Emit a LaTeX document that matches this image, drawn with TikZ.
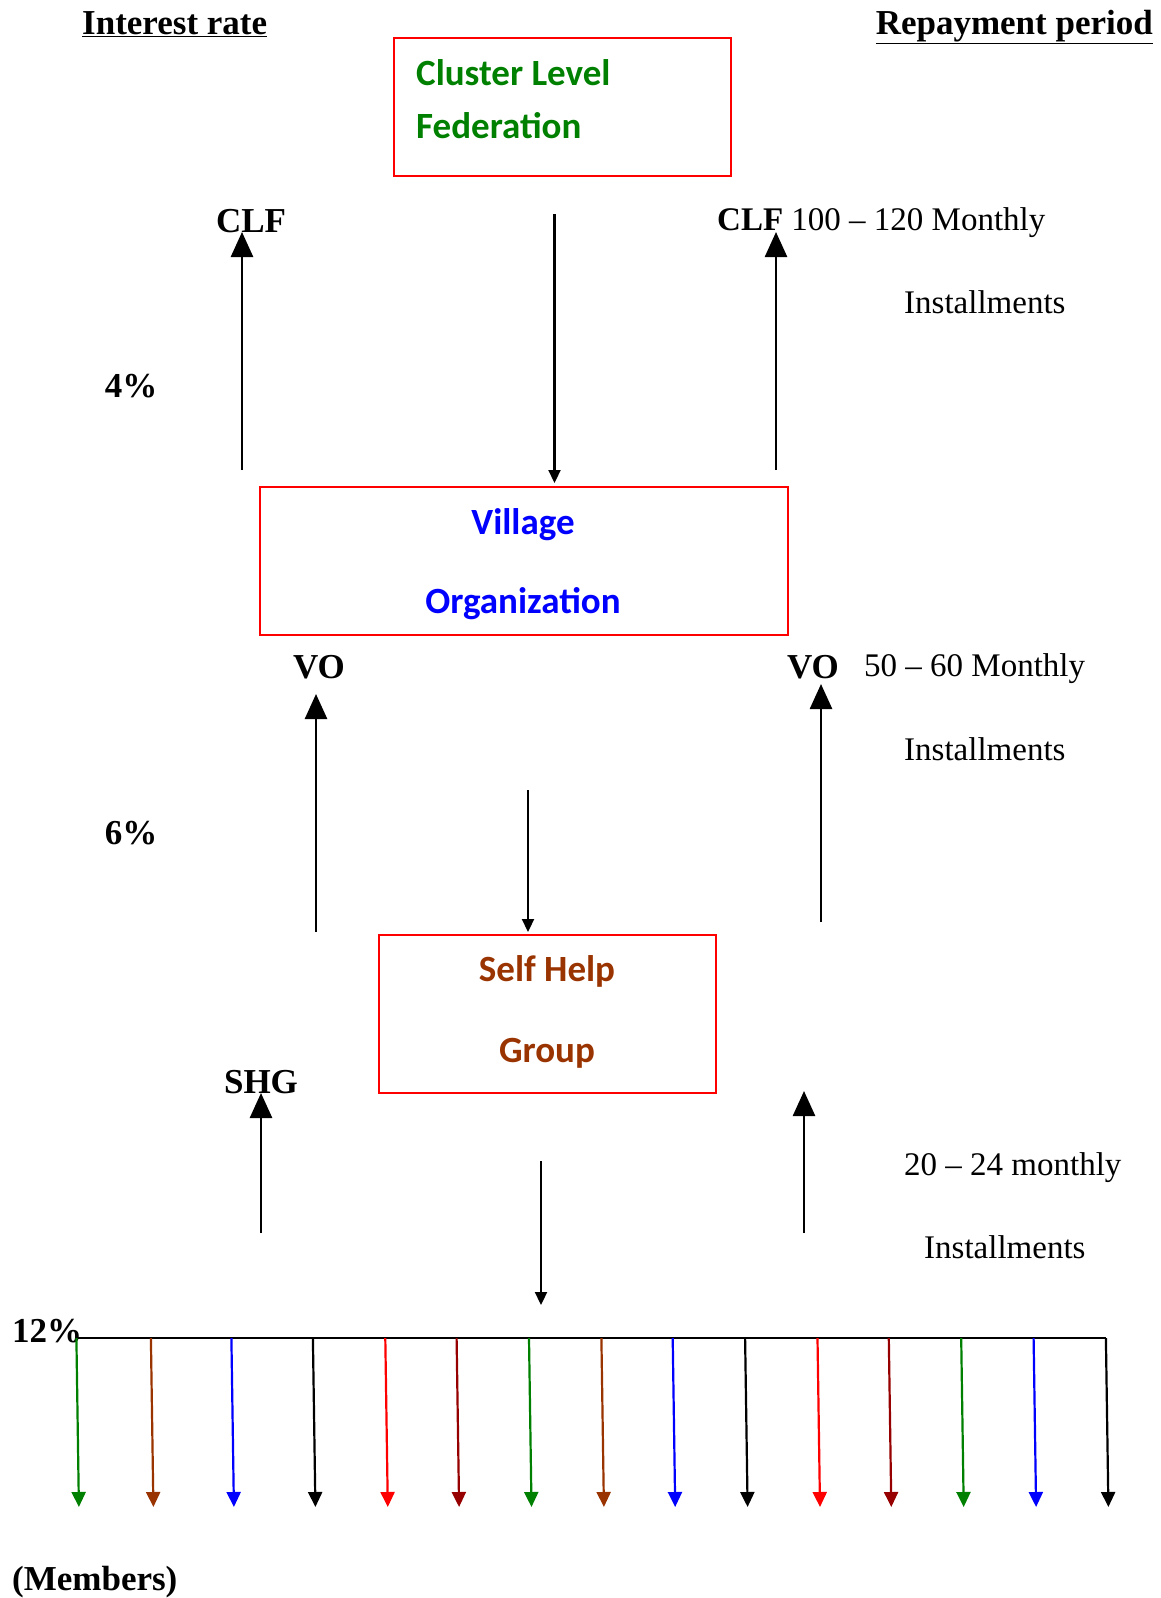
\documentclass[tikz,border=0pt]{standalone}
\usepackage{fontspec}
\setmainfont{Liberation Serif}
\newfontfamily\boxfont{Carlito}
\usetikzlibrary{arrows.meta}
\definecolor{cgreen}{RGB}{0,128,0}
\definecolor{cbrown}{RGB}{153,51,0}
\definecolor{cdred}{RGB}{150,0,0}
\definecolor{cblue}{RGB}{0,0,255}
\definecolor{cred}{RGB}{255,0,0}
\tikzset{
  lbl/.style={font=\fontsize{33}{38}\selectfont, inner sep=0pt},
  blbl/.style={font=\fontsize{35}{40}\selectfont\bfseries, inner sep=0pt},
  boxtxt/.style={font=\fontsize{37}{42}\selectfont\boxfont\bfseries, inner sep=0pt},
  frame/.style={draw=cred, line width=1.6pt},
  bigup/.style={line width=2.6pt, -{Triangle[length=25pt,width=22pt]}},
  smalldown/.style={line width=2.2pt, -{Triangle[length=13pt,width=12pt]}},
  member/.style={line width=2.2pt, -{Triangle[length=15pt,width=14pt]}},
}
\begin{document}
\begin{tikzpicture}[x=1pt,y=-1pt]
\useasboundingbox (0,0) rectangle (1160,1598);
% headers
\node[blbl, anchor=west] (hir) at (82,24) {\underline{Interest rate}};
\node[blbl, anchor=east] (hrp) at (1153,27) {\underline{Repayment period}};
% CLF box
\draw[frame] (394,38) rectangle (731,176);
\node[boxtxt, text=cgreen, anchor=west] (clf1) at (416,73) {Cluster Level};
\node[boxtxt, text=cgreen, anchor=west] (clf2) at (416,126) {Federation};
% CLF level labels and arrows
\node[blbl] (clfl) at (251,221) {CLF};
\coordinate (a1s) at (242,470); \coordinate (a1e) at (242,232);
\draw[bigup] (a1s) -- (a1e);
\coordinate (d1s) at (554.5,214); \coordinate (d1e) at (554.5,483);
\draw[smalldown] (d1s) -- (d1e);
\node[lbl, anchor=west] (clfr) at (717,223) {\textbf{CLF} 100 – 120 Monthly};
\coordinate (a2s) at (776,470); \coordinate (a2e) at (776,232);
\draw[bigup] (a2s) -- (a2e);
\node[lbl, anchor=west] (inst1) at (904,302) {Installments};
\node[blbl] (p4) at (131,386) {4\%};
% VO box
\draw[frame] (260,487) rectangle (788,635);
\node[boxtxt, text=cblue] (vo1) at (523,525) {Village};
\node[boxtxt, text=cblue] (vo2) at (523,604) {Organization};
% VO level
\node[blbl] (vol) at (319,667) {VO};
\coordinate (a3s) at (316,932); \coordinate (a3e) at (316,694);
\draw[bigup] (a3s) -- (a3e);
\coordinate (d2s) at (528,790); \coordinate (d2e) at (528,932);
\draw[smalldown] (d2s) -- (d2e);
\node[blbl] (vor) at (813,667) {VO};
\node[lbl, anchor=west] (vorr) at (864,669) {50 – 60 Monthly};
\coordinate (a4s) at (821,922); \coordinate (a4e) at (821,684);
\draw[bigup] (a4s) -- (a4e);
\node[lbl, anchor=west] (inst2) at (904,749) {Installments};
\node[blbl] (p6) at (131,833) {6\%};
% SHG box
\draw[frame] (379,935) rectangle (716,1093);
\node[boxtxt, text=cbrown] (shg1) at (547,971) {Self Help};
\node[boxtxt, text=cbrown] (shg2) at (547,1053) {Group};
% SHG level
\node[blbl] (shgl) at (261,1082) {SHG};
\coordinate (a5s) at (261,1233); \coordinate (a5e) at (261,1093);
\draw[bigup] (a5s) -- (a5e);
\coordinate (d3s) at (541,1161); \coordinate (d3e) at (541,1305);
\draw[smalldown] (d3s) -- (d3e);
\coordinate (a6s) at (804,1233); \coordinate (a6e) at (804,1091);
\draw[bigup] (a6s) -- (a6e);
\node[lbl, anchor=west] (rp3) at (904,1168) {20 – 24 monthly};
\node[lbl, anchor=west] (inst3) at (924,1247) {Installments};
% members
\node[blbl, anchor=west] (p12) at (12,1331) {12\%};
\coordinate (hl) at (76,1338); \coordinate (hr) at (1106,1338);
\draw[line width=2.2pt] (hl) -- (hr);
\foreach \x/\c [count=\i] in {76.4/cgreen,150.9/cbrown,231.4/cblue,312.9/black,385.3/cred,456.6/cdred,529.0/cgreen,601.4/cbrown,672.7/cblue,745.1/black,817.5/cred,888.8/cdred,961.2/cgreen,1033.6/cblue,1105.9/black}{
  \coordinate (m\i s) at (\x,1338);
  \coordinate (m\i e) at (\x+2.5,1507);
  \draw[member, draw=\c, fill=\c] (m\i s) -- (m\i e);
}
\node[blbl, anchor=west] (mem) at (12,1582) {(Members)};
\end{tikzpicture}
\end{document}
